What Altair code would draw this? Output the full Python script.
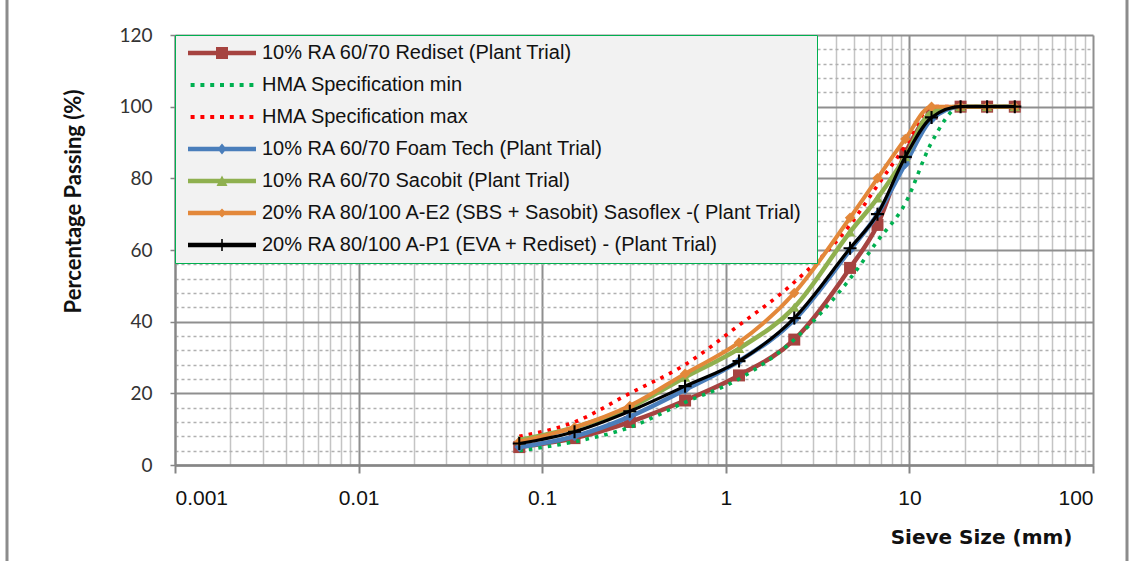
import altair as alt
import pandas as pd

# Sieve sizes (mm) and percentage passing for each mix / specification limit
sieve_mm = [0.075, 0.15, 0.3, 0.6, 1.18, 2.36, 4.75, 6.7, 9.5, 13.2, 19, 26.5, 37.5]

rediset_10 = [5, 7.5, 12, 18, 25, 35, 55, 67, 87, 98, 100, 100, 100]
hma_spec_min = [4, 6.5, 10.5, 17.5, 24, 35, 52, 62.5, 73, 90, 100, 100, 100]
hma_spec_max = [8, 12, 20, 28, 39, 51, 67, 78, 89, 100, 100, 100, 100]
foam_tech_10 = [5, 8, 13.5, 21, 29, 40.5, 60, 70, 84, 96.5, 100, 100, 100]
sasobit_10 = [7, 10.5, 16, 24.5, 32.5, 44, 65, 74.5, 86, 98.5, 100, 100, 100]
sasoflex_20 = [6.5, 10.5, 16.5, 25.5, 34.2, 48, 69, 80, 91, 100, 100, 100, 100]
eva_rediset_20 = [6, 9.3, 15, 22, 29, 41, 60.5, 70, 86, 97, 100, 100, 100]

series_names = [
    "10% RA 60/70 Rediset  (Plant Trial)",
    "HMA Specification min",
    "HMA Specification max",
    "10% RA 60/70 Foam Tech (Plant Trial)",
    "10% RA 60/70 Sacobit  (Plant Trial)",
    "20% RA 80/100  A-E2 (SBS + Sasobit) Sasoflex -( Plant Trial)",
    "20% RA 80/100 A-P1  (EVA + Rediset) - (Plant Trial)",
]
series_values = [rediset_10, hma_spec_min, hma_spec_max, foam_tech_10,
                 sasobit_10, sasoflex_20, eva_rediset_20]
series_colors = ["#a64340", "#00b050", "#ff0000", "#4a7ebb", "#8fb04f", "#e3883a", "#000000"]

# axis tick positions
x_major_ticks = [0.001, 0.01, 0.1, 1, 10, 100]
x_minor_ticks = [round(k * 10.0 ** e, 6) for e in range(-3, 2) for k in range(2, 10)]
y_ticks = list(range(0, 121, 4))

# ---- marker shapes (custom SVG paths) ----
def box(cx, cy, hw, hh, u=1.0):
    cx, cy, hw, hh = cx / u, cy / u, hw / u, hh / u
    return f"M{cx-hw:.3f},{cy-hh:.3f}H{cx+hw:.3f}V{cy+hh:.3f}H{cx-hw:.3f}Z"

def poly(pts, u=1.0):
    return "M" + "L".join(f"{x/u:.3f},{y/u:.3f}" for x, y in pts) + "Z"

plus_path = box(0, 0, 1, 0.16) + box(0, 0, 0.16, 1)

# legend symbols drawn in pixels, scaled by the symbol unit (half of sqrt(symbolSize))
SYM_SIZE = 400
U = SYM_SIZE ** 0.5 / 2
legend_line = box(0, 0, 34, 2.2, U)
dots = "".join(box(dx, 0, 2, 2, U) for dx in (-29.4, -19.6, -9.8, 0, 9.8, 19.6, 29.4))
legend_paths = [
    legend_line + box(0, 0, 6, 6, U),
    dots,
    dots,
    legend_line + poly([(0, -5.5), (4.5, 0), (0, 5.5), (-4.5, 0)], U),
    legend_line + poly([(0, -5.5), (5.5, 5), (-5.5, 5)], U),
    legend_line + poly([(0, -4.5), (4.5, 0), (0, 4.5), (-4.5, 0)], U),
    legend_line + box(0, 0, 0.8, 6, U),
]

styles = [
    dict(width=4.5, dash=None, shape="square", size=144),
    dict(width=3.6, dash=[3.6, 6], shape=None, size=0),
    dict(width=3.6, dash=[3.6, 6], shape=None, size=0),
    dict(width=4.5, dash=None, shape="diamond", size=100),
    dict(width=4.5, dash=None, shape="triangle-up", size=110),
    dict(width=4.0, dash=None, shape="diamond", size=110),
    dict(width=3.2, dash=None, shape=plus_path, size=170),
]

rows = []
for name, vals in zip(series_names, series_values):
    for s, v in zip(sieve_mm, vals):
        rows.append({"series": name, "sieve": s, "passing": v})
df = pd.DataFrame(rows)

decade_test = "abs(log(datum.value)/LN10 - round(log(datum.value)/LN10)) < 0.001"
major_y_test = "datum.value % 20 == 0"

x_axis = alt.Axis(
    values=sorted(x_major_ticks + x_minor_ticks),
    labelExpr=f"({decade_test}) ? format(datum.value, '~g') : ''",
    labelOverlap=False,
    labelFont="Liberation Sans",
    labelFontSize=21,
    labelColor="#111111",
    labelBaseline="middle",
    labelPadding=25,
    tickSize=8,
    tickWidth=2,
    tickColor="#868686",
    tickOpacity={"condition": {"test": decade_test, "value": 1}, "value": 0},
    domainColor="#868686",
    domainWidth=2.5,
    grid=True,
    gridColor={"condition": {"test": decade_test, "value": "#8f8f8f"}, "value": "#c4c4c4"},
    gridWidth={"condition": {"test": decade_test, "value": 2}, "value": 1.5},
    title="Sieve Size (mm)",
    titleFont="DejaVu Sans",
    titleFontSize=20,
    titleFontWeight="bold",
    titleColor="#111111",
    titleAlign="right",
    titleBaseline="middle",
    titleX=897,
    titleY=72,
)

y_axis = alt.Axis(
    values=y_ticks,
    labelExpr=f"({major_y_test}) ? datum.label : ''",
    labelOverlap=False,
    labelFont="Lato",
    labelFontSize=19,
    labelColor="#333333",
    labelPadding=18,
    tickSize=5,
    tickWidth=1.5,
    tickColor="#868686",
    tickOpacity={"condition": {"test": major_y_test, "value": 1}, "value": 0},
    domainColor="#868686",
    domainWidth=2,
    grid=True,
    gridColor={"condition": {"test": major_y_test, "value": "#8f8f8f"}, "value": "#b0b0b0"},
    gridWidth={"condition": {"test": major_y_test, "value": 2}, "value": 1.3},
    gridDash={"condition": {"test": major_y_test, "value": []}, "value": [3, 3]},
    title="Percentage Passing (%)",
    titleFont="Lato",
    titleFontSize=22,
    titleFontWeight="bold",
    titleColor="#111111",
    titleAngle=270,
    titleAlign="center",
    titleBaseline="middle",
    titleX=-102,
    titleY=166,
)

x_enc = alt.X("sieve:Q", scale=alt.Scale(type="log", domain=[0.001, 100], nice=False), axis=x_axis)
y_enc = alt.Y("passing:Q", scale=alt.Scale(domain=[0, 120], nice=False), axis=y_axis)

layers = []
for name, color, st in zip(series_names, series_colors, styles):
    base = alt.Chart(df).transform_filter(alt.datum.series == name)
    line_kw = dict(color=color, strokeWidth=st["width"], interpolate="monotone")
    if st["dash"]:
        line_kw["strokeDash"] = st["dash"]
    layers.append(base.mark_line(**line_kw).encode(x=x_enc, y=y_enc))
    if st["shape"]:
        layers.append(
            base.mark_point(filled=True, opacity=1, shape=st["shape"], size=st["size"],
                            color=color, strokeWidth=0).encode(x=x_enc, y=y_enc)
        )

legend = alt.Legend(
    title=None,
    orient="none",
    legendX=0,
    legendY=0,
    fillColor="#f2f2f2",
    strokeColor="#00b050",
    padding=8,
    rowPadding=12,
    symbolSize=SYM_SIZE,
    symbolStrokeWidth=0,
    symbolOpacity=1,
    symbolOffset=29,
    labelOffset=30,
    labelFont="Liberation Sans",
    labelFontSize=20,
    labelColor="#111111",
    labelLimit=1000,
)

legend_layer = (
    alt.Chart(df)
    .transform_filter("false")
    .mark_point(filled=True, opacity=1, strokeWidth=0, size=SYM_SIZE)
    .encode(
        x=x_enc,
        y=y_enc,
        color=alt.Color("series:N", scale=alt.Scale(domain=series_names, range=series_colors), legend=legend),
        shape=alt.Shape("series:N", scale=alt.Scale(domain=series_names, range=legend_paths), legend=legend),
    )
)

# thin frame lines at the left and right edges of the chart area
frame = [
    alt.Chart(alt.Data(values=[{}])).mark_rule(color="#8c8c8c", strokeWidth=3).encode(
        x=alt.value(xv), y=alt.value(-35), y2=alt.value(526)
    )
    for xv in (-168, 952)
]

chart = (
    alt.layer(*layers, legend_layer, *frame)
    .properties(
        width=918,
        height=430,
        padding={"left": 175, "top": 35, "right": 39, "bottom": 96},
        autosize=alt.AutoSizeParams(type="none"),
        background="white",
    )
    .configure_view(stroke=None)
)

chart.save("out.html", embed_options={"renderer": "svg", "actions": False})
